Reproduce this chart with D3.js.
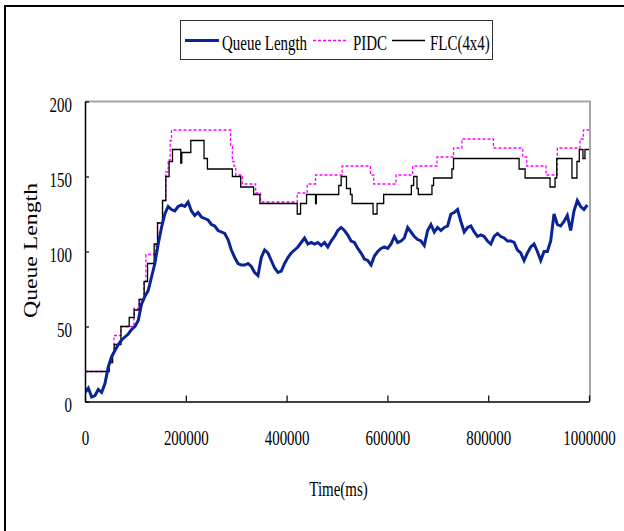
<!DOCTYPE html>
<html>
<head>
<meta charset="utf-8">
<script src="https://cdn.jsdelivr.net/npm/d3@7"></script>
<style>
  body { margin: 0; background: #fff; }
  text { font-family: "Liberation Serif", serif; }
</style>
</head>
<body>
<div class="chart"></div>
<script>
var svgWidth = 624;
var svgHeight = 531;

// ---------------- data ----------------
var timeTicks = [0, 200000, 400000, 600000, 800000, 1000000];
var queueTicks = [0, 50, 100, 150, 200];
var seriesNames = ["Queue Length", "PIDC", "FLC(4x4)"];

// queue length sampled every 6600 ms starting at 0
var queueStep = 6600;
var queueLength = [
  6, 9, 3, 4, 8, 6, 12, 23, 30, 34, 38, 41, 43, 45, 48, 50, 54, 65, 70, 74,
  83, 92, 105, 116, 125, 130, 128, 127, 130, 131, 130, 133, 127, 124, 126, 123, 122, 121, 118, 117,
  114, 113, 112, 108, 101, 96, 92, 91, 91, 92, 90, 86, 84, 96, 101, 99, 94, 89, 86, 87,
  92, 96, 99, 101, 103, 106, 109, 105, 106, 105, 106, 104, 106, 103, 107, 110, 114, 116, 114, 111,
  107, 106, 102, 99, 95, 94, 91, 97, 100, 102, 103, 102, 105, 110, 106, 107, 109, 116, 113, 110,
  108, 107, 104, 114, 118, 113, 116, 114, 116, 117, 125, 126, 128, 120, 113, 116, 117, 113, 110, 111,
  110, 107, 105, 110, 112, 110, 109, 107, 107, 106, 101, 99, 94, 99, 103, 105, 100, 94, 100, 100,
  107, 125, 118, 117, 120, 124, 114, 127, 134, 130, 128, 131
];

// PIDC: step changes (time, new value)
var pidcTime = [0, 48100, 53500, 57400, 71300, 97000, 107500, 116800, 120800, 140600,
  143900, 153800, 160400, 164900, 168900, 171700, 288900, 292400, 295600, 299000,
  312200, 338600, 348500, 421100, 440900, 457400, 510200, 566300, 572800, 617200,
  650000, 698300, 731200, 747800, 810400, 868600, 876500, 914800, 937100, 982100,
  988700, 1000000];
var pidcValue = [20, 26, 32, 44, 50, 62, 68, 80, 98, 105,
  119, 134, 153, 161, 174, 181, 170, 160, 157, 151,
  145, 139, 133, 139, 145, 151, 157, 151, 145, 151,
  157, 163, 169, 175, 169, 163, 157, 151, 169, 175,
  181, 181];

// FLC(4x4): step changes (time, new value)
var flcTime = [0, 48000, 54800, 58000, 71300, 87700, 97600, 107500, 117400, 124100,
  137200, 143900, 153800, 160400, 166900, 173600, 190000, 192000, 209900, 236200,
  242900, 292400, 308900, 334600, 347000, 421100, 427700, 439600, 457400, 459000,
  503500, 508300, 518800, 526700, 530000, 571600, 579500, 592600, 647500, 652000,
  658700, 661300, 688400, 691600, 728000, 731200, 861300, 873200, 922700, 932600,
  936000, 966200, 976100, 980700, 988000, 992000, 1000000];
var flcValue = [20, 26, 32, 38, 50, 56, 61, 68, 80, 92,
  105, 119, 134, 150, 160, 168, 159, 166, 174, 162,
  155, 150, 143, 138, 132, 125, 132, 138, 132, 138,
  144, 150, 142, 138, 132, 125, 132, 138, 144, 150,
  142, 138, 144, 149, 155, 162, 155, 149, 143, 149,
  162, 149, 160, 168, 162, 168, 168];

// ---------------- layout ----------------
var plot = { left: 85, right: 589, top: 101.5, bottom: 401.5 };
var textScale = 0.68;

var svg = d3.select(".chart")
  .append("svg")
  .attr("width", svgWidth)
  .attr("height", svgHeight);

svg.append("rect")
  .attr("width", svgWidth)
  .attr("height", svgHeight)
  .attr("fill", "#fff");

// outer frame (only top and left edges show in the picture)
svg.append("path")
  .attr("d", "M5," + svgHeight + "V6H" + svgWidth)
  .attr("fill", "none")
  .attr("stroke", "#000")
  .attr("stroke-width", 2);

var x = d3.scaleLinear().domain([0, 1000000]).range([plot.left, plot.right]);
var y = d3.scaleLinear().domain([0, 200]).range([plot.bottom, plot.top]);

// plot area: grey top and right edges
svg.append("path")
  .attr("d", "M" + x(0) + "," + y(200) + "H" + (x(1000000) + 1) + "V" + y(0))
  .attr("fill", "none")
  .attr("stroke", "#a6a6a6")
  .attr("stroke-width", 2);

// clip for the series
svg.append("clipPath").attr("id", "plotClip")
  .append("rect")
  .attr("x", plot.left)
  .attr("y", plot.top - 2)
  .attr("width", plot.right - plot.left + 1)
  .attr("height", plot.bottom - plot.top + 2);

var lines = svg.append("g").attr("clip-path", "url(#plotClip)");

var stepLine = d3.line()
  .x(d => x(d[0]))
  .y(d => y(d[1]))
  .curve(d3.curveStepAfter);

var pidcData = pidcTime.map((t, i) => [t, pidcValue[i]]);
var flcData = flcTime.map((t, i) => [t, flcValue[i]]);
var queueData = queueLength.map((v, i) => [i * queueStep, v]);

lines.append("path")
  .datum(pidcData)
  .attr("d", stepLine)
  .attr("fill", "none")
  .attr("stroke", "#ff00ff")
  .attr("stroke-width", 1.3)
  .attr("stroke-dasharray", "3,2");

lines.append("path")
  .datum(flcData)
  .attr("d", stepLine)
  .attr("fill", "none")
  .attr("stroke", "#000")
  .attr("stroke-width", 1.3);

lines.append("path")
  .datum(queueData)
  .attr("d", d3.line().x(d => x(d[0])).y(d => y(d[1])))
  .attr("fill", "none")
  .attr("stroke", "#0a2396")
  .attr("stroke-width", 3)
  .attr("stroke-linejoin", "miter");

// ---------------- axes ----------------
var bottomAxis = d3.axisBottom(x)
  .tickValues(timeTicks)
  .tickSize(-6)
  .tickSizeOuter(0)
  .tickFormat(d3.format("d"));

var xAxis = svg.append("g")
  .attr("transform", `translate(0, ${plot.bottom})`)
  .call(bottomAxis);
xAxis.select(".domain").attr("stroke-width", 1.5);
xAxis.selectAll("line").attr("stroke-width", 1.2);
xAxis.selectAll("text")
  .attr("y", 44)
  .attr("dy", null)
  .attr("transform", `scale(${textScale},1)`)
  .style("font-family", "Liberation Serif")
  .style("font-size", "22px")
  .attr("fill", "#000");

var leftAxis = d3.axisLeft(y)
  .tickValues(queueTicks)
  .tickSize(-4)
  .tickSizeOuter(0);

var yAxis = svg.append("g")
  .attr("transform", `translate(${plot.left}, 0)`)
  .call(leftAxis);
yAxis.select(".domain").attr("stroke-width", 1.5);
yAxis.selectAll("line").attr("stroke-width", 1.2);
yAxis.selectAll("text")
  .attr("x", -13 / textScale)
  .attr("y", 10)
  .attr("dy", null)
  .attr("transform", `scale(${textScale},1)`)
  .style("font-family", "Liberation Serif")
  .style("font-size", "22px")
  .attr("fill", "#000");

// axis titles
svg.append("text")
  .attr("transform", `translate(338.5, 496) scale(${textScale},1)`)
  .attr("text-anchor", "middle")
  .style("font-size", "22px")
  .text("Time(ms)");

svg.append("text")
  .attr("transform", "translate(37, 250.5) rotate(-90)")
  .attr("text-anchor", "middle")
  .attr("textLength", 135)
  .attr("lengthAdjust", "spacingAndGlyphs")
  .style("font-size", "18px")
  .text("Queue Length");

// ---------------- legend ----------------
var legend = svg.append("g");
legend.append("rect")
  .attr("x", 180.5)
  .attr("y", 20.5)
  .attr("width", 312)
  .attr("height", 39)
  .attr("fill", "#fff")
  .attr("stroke", "#333")
  .attr("stroke-width", 1);

var legendItems = [
  { name: seriesNames[0], x0: 185, x1: 219, tx: 222, color: "#0a2396", w: 3, dash: null },
  { name: seriesNames[1], x0: 313, x1: 347, tx: 353, color: "#ff00ff", w: 1.3, dash: "3,2" },
  { name: seriesNames[2], x0: 392, x1: 425, tx: 430, color: "#000", w: 1.3, dash: null }
];

legendItems.forEach(item => {
  legend.append("line")
    .attr("x1", item.x0).attr("x2", item.x1)
    .attr("y1", 40.5).attr("y2", 40.5)
    .attr("stroke", item.color)
    .attr("stroke-width", item.w)
    .attr("stroke-dasharray", item.dash);
  legend.append("text")
    .attr("transform", `translate(${item.tx}, 50) scale(${textScale},1)`)
    .style("font-size", "22px")
    .text(item.name);
});
</script>
</body>
</html>
